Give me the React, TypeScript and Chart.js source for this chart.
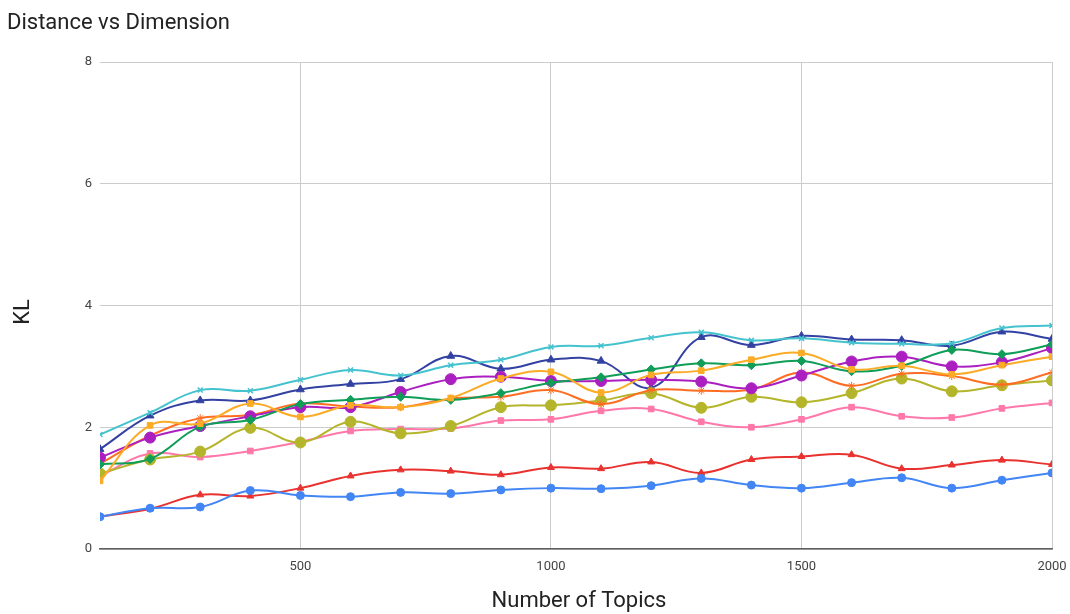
import React, { useEffect, useRef } from "react";
import { Chart, registerables } from "chart.js";

Chart.register(...registerables);

const topics = [100, 200, 300, 400, 500, 600, 700, 800, 900, 1000, 1100, 1200, 1300, 1400, 1500, 1600, 1700, 1800, 1900, 2000];
const xTickValues = [500, 1000, 1500, 2000];
const yTickValues = [0, 2, 4, 6, 8];

const blueSeries = [0.53, 0.67, 0.69, 0.96, 0.88, 0.86, 0.93, 0.91, 0.97, 1.0, 0.99, 1.04, 1.16, 1.05, 1.0, 1.09, 1.17, 1.0, 1.13, 1.25];
const redSeries = [0.53, 0.66, 0.89, 0.87, 1.0, 1.2, 1.3, 1.28, 1.22, 1.34, 1.32, 1.43, 1.25, 1.47, 1.52, 1.55, 1.32, 1.38, 1.46, 1.39];
const amberSeries = [1.12, 2.03, 2.06, 2.39, 2.17, 2.36, 2.33, 2.48, 2.8, 2.91, 2.57, 2.86, 2.93, 3.11, 3.22, 2.95, 3.01, 2.87, 3.02, 3.16];
const greenSeries = [1.39, 1.48, 2.01, 2.12, 2.38, 2.45, 2.5, 2.45, 2.56, 2.73, 2.82, 2.95, 3.05, 3.02, 3.09, 2.92, 3.01, 3.27, 3.2, 3.36];
const purpleSeries = [1.5, 1.83, 2.02, 2.18, 2.33, 2.33, 2.58, 2.79, 2.83, 2.76, 2.76, 2.78, 2.75, 2.64, 2.85, 3.08, 3.16, 3.0, 3.07, 3.3];
const cyanSeries = [1.88, 2.24, 2.61, 2.6, 2.78, 2.94, 2.85, 3.02, 3.11, 3.32, 3.34, 3.47, 3.56, 3.43, 3.46, 3.39, 3.37, 3.38, 3.63, 3.67];
const orangeSeries = [1.4, 1.86, 2.15, 2.2, 2.39, 2.34, 2.33, 2.47, 2.5, 2.61, 2.38, 2.61, 2.6, 2.62, 2.9, 2.68, 2.88, 2.84, 2.7, 2.9];
const oliveSeries = [1.24, 1.47, 1.6, 1.99, 1.75, 2.09, 1.9, 2.02, 2.33, 2.36, 2.44, 2.56, 2.32, 2.5, 2.41, 2.56, 2.8, 2.59, 2.69, 2.77];
const navySeries = [1.64, 2.19, 2.44, 2.44, 2.62, 2.71, 2.79, 3.17, 2.96, 3.11, 3.09, 2.65, 3.48, 3.35, 3.5, 3.44, 3.43, 3.34, 3.57, 3.45];
const pinkSeries = [1.2, 1.57, 1.51, 1.61, 1.76, 1.94, 1.97, 1.98, 2.11, 2.13, 2.27, 2.3, 2.09, 2.0, 2.13, 2.33, 2.18, 2.16, 2.31, 2.4];

const titleText = "Distance vs Dimension";
const xTitle = "Number of Topics";
const yTitle = "KL";

const FONT = "Roboto, 'Noto Sans', Arial, sans-serif";

const textPlugin = {
  id: "textPlugin",
  afterDraw(chart: any) {
    const ctx = chart.ctx;
    const area = chart.chartArea;
    ctx.save();
    ctx.fillStyle = "#222222";
    ctx.font = `22px ${FONT}`;
    ctx.textAlign = "left";
    ctx.textBaseline = "alphabetic";
    ctx.fillText(titleText, 7, 29);

    ctx.font = `22px ${FONT}`;
    ctx.textAlign = "center";
    ctx.textBaseline = "middle";
    ctx.fillText(xTitle, (area.left + area.right) / 2 + 3, 601);

    ctx.translate(23, 312);
    ctx.rotate(-Math.PI / 2);
    ctx.fillText(yTitle, 0, 0);
    ctx.restore();
  },
};

function makeSet(label: string, data: number[], color: string, pointStyle: string, radius: number) {
  return {
    label,
    data: topics.map((t, i) => ({ x: t, y: data[i] })),
    borderColor: color,
    backgroundColor: color,
    pointBackgroundColor: color,
    pointBorderColor: color,
    pointStyle,
    pointRadius: radius,
    pointBorderWidth: pointStyle === "crossRot" ? 1.5 : 1,
    borderWidth: 2,
    tension: 0.4,
    fill: false,
  };
}

export default function App() {
  const canvasRef = useRef<HTMLCanvasElement | null>(null);

  useEffect(() => {
    document.body.style.margin = "0";
    const canvas = canvasRef.current;
    if (!canvas) return;
    const chart = new Chart(canvas, {
      type: "line",
      data: {
        datasets: [
          makeSet("Series 1", blueSeries, "#4285F4", "circle", 4),
          makeSet("Series 2", redSeries, "#E8322F", "triangle", 4),
          makeSet("Series 3", amberSeries, "#FBAB25", "rect", 4),
          makeSet("Series 4", greenSeries, "#0F9D58", "rectRot", 4.5),
          makeSet("Series 5", purpleSeries, "#AB1FC1", "circle", 5.5),
          makeSet("Series 6", cyanSeries, "#44C3CF", "crossRot", 3.5),
          makeSet("Series 7", orangeSeries, "#FF6D22", "star", 4),
          makeSet("Series 8", oliveSeries, "#B5B52C", "circle", 5.5),
          makeSet("Series 9", navySeries, "#3342A2", "triangle", 4.5),
          makeSet("Series 10", pinkSeries, "#FF78A9", "rect", 4),
        ] as any,
      },
      options: {
        animation: false,
        responsive: false,
        maintainAspectRatio: false,
        layout: { padding: { left: 0, right: 18, top: 62, bottom: 0 } },
        plugins: {
          legend: { display: false },
          title: { display: false },
          tooltip: { enabled: false },
        },
        scales: {
          x: {
            type: "linear",
            min: 100,
            max: 2000,
            afterBuildTicks: (scale: any) => {
              scale.ticks = xTickValues.map((v) => ({ value: v }));
            },
            afterFit: (scale: any) => {
              scale.height = 65;
              scale.paddingLeft = 0;
              scale.paddingRight = 0;
            },
            grid: { color: "#CCCCCC", lineWidth: 1, drawTicks: false },
            border: { display: true, color: "#5F5F5F", width: 1.5 },
            ticks: {
              padding: 10,
              color: "#444444",
              font: { family: FONT, size: 13 },
              maxRotation: 0,
              autoSkip: false,
              callback: (v: any) => String(v),
            },
          },
          y: {
            min: 0,
            max: 8,
            afterBuildTicks: (scale: any) => {
              scale.ticks = yTickValues.map((v) => ({ value: v }));
            },
            afterFit: (scale: any) => {
              scale.width = 100;
              scale.paddingTop = 0;
              scale.paddingBottom = 0;
            },
            grid: { color: "#CCCCCC", lineWidth: 1, drawTicks: false },
            border: { display: false },
            ticks: {
              padding: 8,
              color: "#444444",
              font: { family: FONT, size: 13 },
              callback: (v: any) => String(v),
            },
          },
        },
      },
      plugins: [textPlugin],
    } as any);
    return () => chart.destroy();
  }, []);

  return (
    <div style={{ position: "absolute", left: 0, top: 0, width: 1070, height: 614, background: "#ffffff" }}>
      <canvas ref={canvasRef} width={1070} height={614} style={{ width: 1070, height: 614, display: "block" }} />
    </div>
  );
}
